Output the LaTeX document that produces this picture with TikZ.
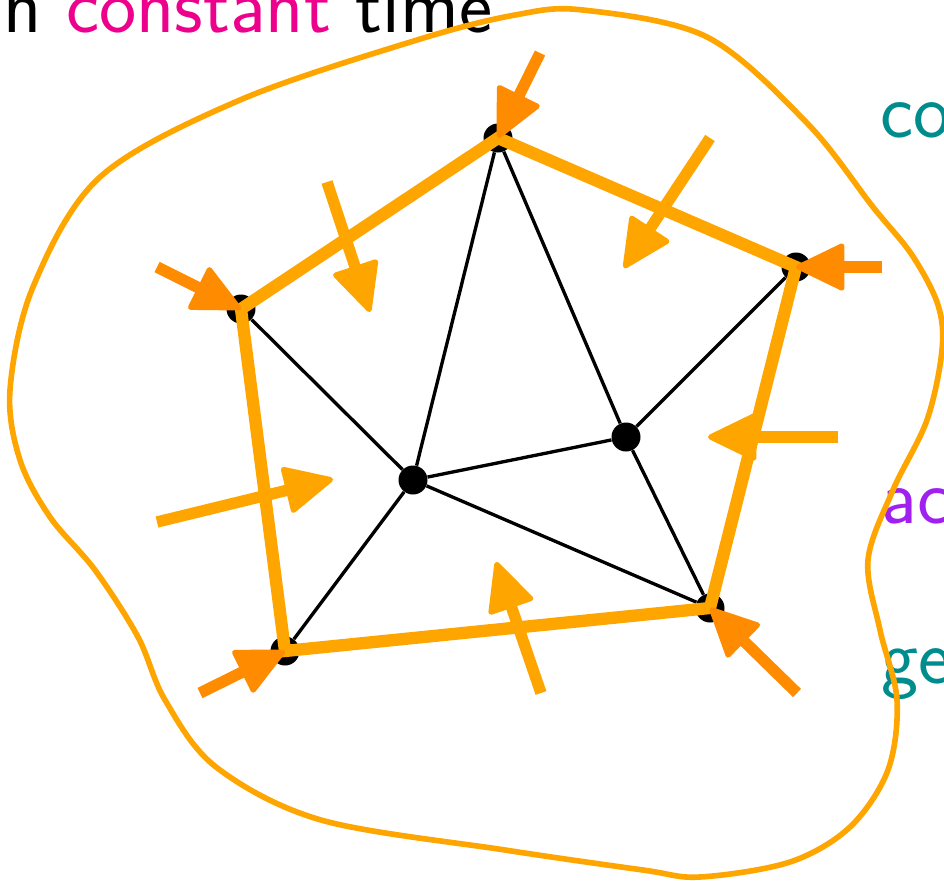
\documentclass[tikz,border=0pt]{standalone}
\usepackage{fontspec}
\usepackage{tikz}
\usetikzlibrary{arrows.meta, calc}
\definecolor{hullorange}{HTML}{FFA500}
\definecolor{pushorange}{HTML}{FF8C00}
\definecolor{keypink}{HTML}{EC008C}
\definecolor{keyteal}{HTML}{008C8C}
\definecolor{keypurple}{HTML}{A020F0}

\begin{document}
\begin{tikzpicture}[
		x=0.02cm, y=-0.02cm,
		every node/.style={
				inner sep=0pt,
				font=\sffamily\fontsize{45}{54}\selectfont
			},
		vertex/.style={circle, fill=black, minimum size=0.58cm},
		graphline/.style={black, line width=1.9pt},
		hull/.style={hullorange, line width=7pt},
		push/.style={
				hullorange, line width=6.5pt,
				-{Triangle[length=1.04cm, width=0.98cm, line width=3pt, round]}
			},
		pull/.style={push, pushorange},
		blob/.style={hullorange, line width=3.2pt}
	]
	\useasboundingbox (0,0) rectangle (944,880);

	% text cut off by the frame
	\node[anchor=base west] (title) at (3,32) {n \textcolor{keypink}{constant} time};
	\node[anchor=base west] (txtco) at (880,137) {\textcolor{keyteal}{co}};
	\node[anchor=base west] (txtac) at (881,523) {\textcolor{keypurple}{ac}};
	\node[anchor=base west] (txtge) at (881,683) {\textcolor{keyteal}{ge}};

	% the region
	\draw[blob] plot[smooth cycle, tension=0.55] coordinates {
			(583,10) (707,37) (807,123) (873,207) (912,255) (938,305) (942,350)
			(927,420) (893,490) (868,560) (880,630) (897,700) (888,770) (850,827)
			(790,862) (700,877) (643,870) (505,850) (321,820) (216,767) (165,700)
			(138,637) (95,570) (50,517) (20,460) (10,390) (33,287) (100,177)
			(240,100) (417,40) (515,15)
		};

	% vertices
	\node[vertex] (nTop) at (498,138) {};
	\node[vertex] (nLeft) at (241,309) {};
	\node[vertex] (nRight) at (796,267) {};
	\node[vertex] (nBotL) at (285,651) {};
	\node[vertex] (nBotR) at (710,608) {};
	\node[vertex] (nMid) at (413,480) {};
	\node[vertex] (nIn) at (626,437) {};

	\draw[graphline] (nTop) -- (nMid);
	\draw[graphline] (nTop) -- (nIn);
	\draw[graphline] (nLeft) -- (nMid);
	\draw[graphline] (nMid) -- (nIn);
	\draw[graphline] (nMid) -- (nBotL);
	\draw[graphline] (nMid) -- (nBotR);
	\draw[graphline] (nIn) -- (nRight);
	\draw[graphline] (nIn) -- (nBotR);

	% outer face
	\draw[hull] (nTop.center) -- (nRight.center) -- (nBotR.center)
	-- (nBotL.center) -- (nLeft.center) -- cycle;

	% pushes across the edges
	\coordinate (sTL) at (327,182);  \coordinate (eTL) at (370,312);
	\coordinate (sTR) at (710,138);  \coordinate (eTR) at (624,268);
	\coordinate (sR) at (838,437);   \coordinate (eR) at (708,437);
	\coordinate (sB) at (541,693);   \coordinate (eB) at (496,562);
	\coordinate (sL) at (157,522);   \coordinate (eL) at (333,479);
	\draw[push] (sTL) -- (eTL);
	\draw[push] (sTR) -- (eTR);
	\draw[push] (sR) -- (eR);
	\draw[push] (sB) -- (eB);
	\draw[push] (sL) -- (eL);

	% pulls into the corners
	\coordinate (tTop) at (540,53);
	\coordinate (tLeft) at (157,267);
	\coordinate (tRight) at (882,267);
	\coordinate (tBotL) at (200,693);
	\coordinate (tBotR) at (797,693);
	\draw[pull] (tTop) -- (nTop.center);
	\draw[pull] (tLeft) -- (nLeft.center);
	\draw[pull] (tRight) -- (nRight.center);
	\draw[pull] (tBotL) -- (nBotL.center);
	\draw[pull] (tBotR) -- (nBotR.center);
\end{tikzpicture}
\end{document}
